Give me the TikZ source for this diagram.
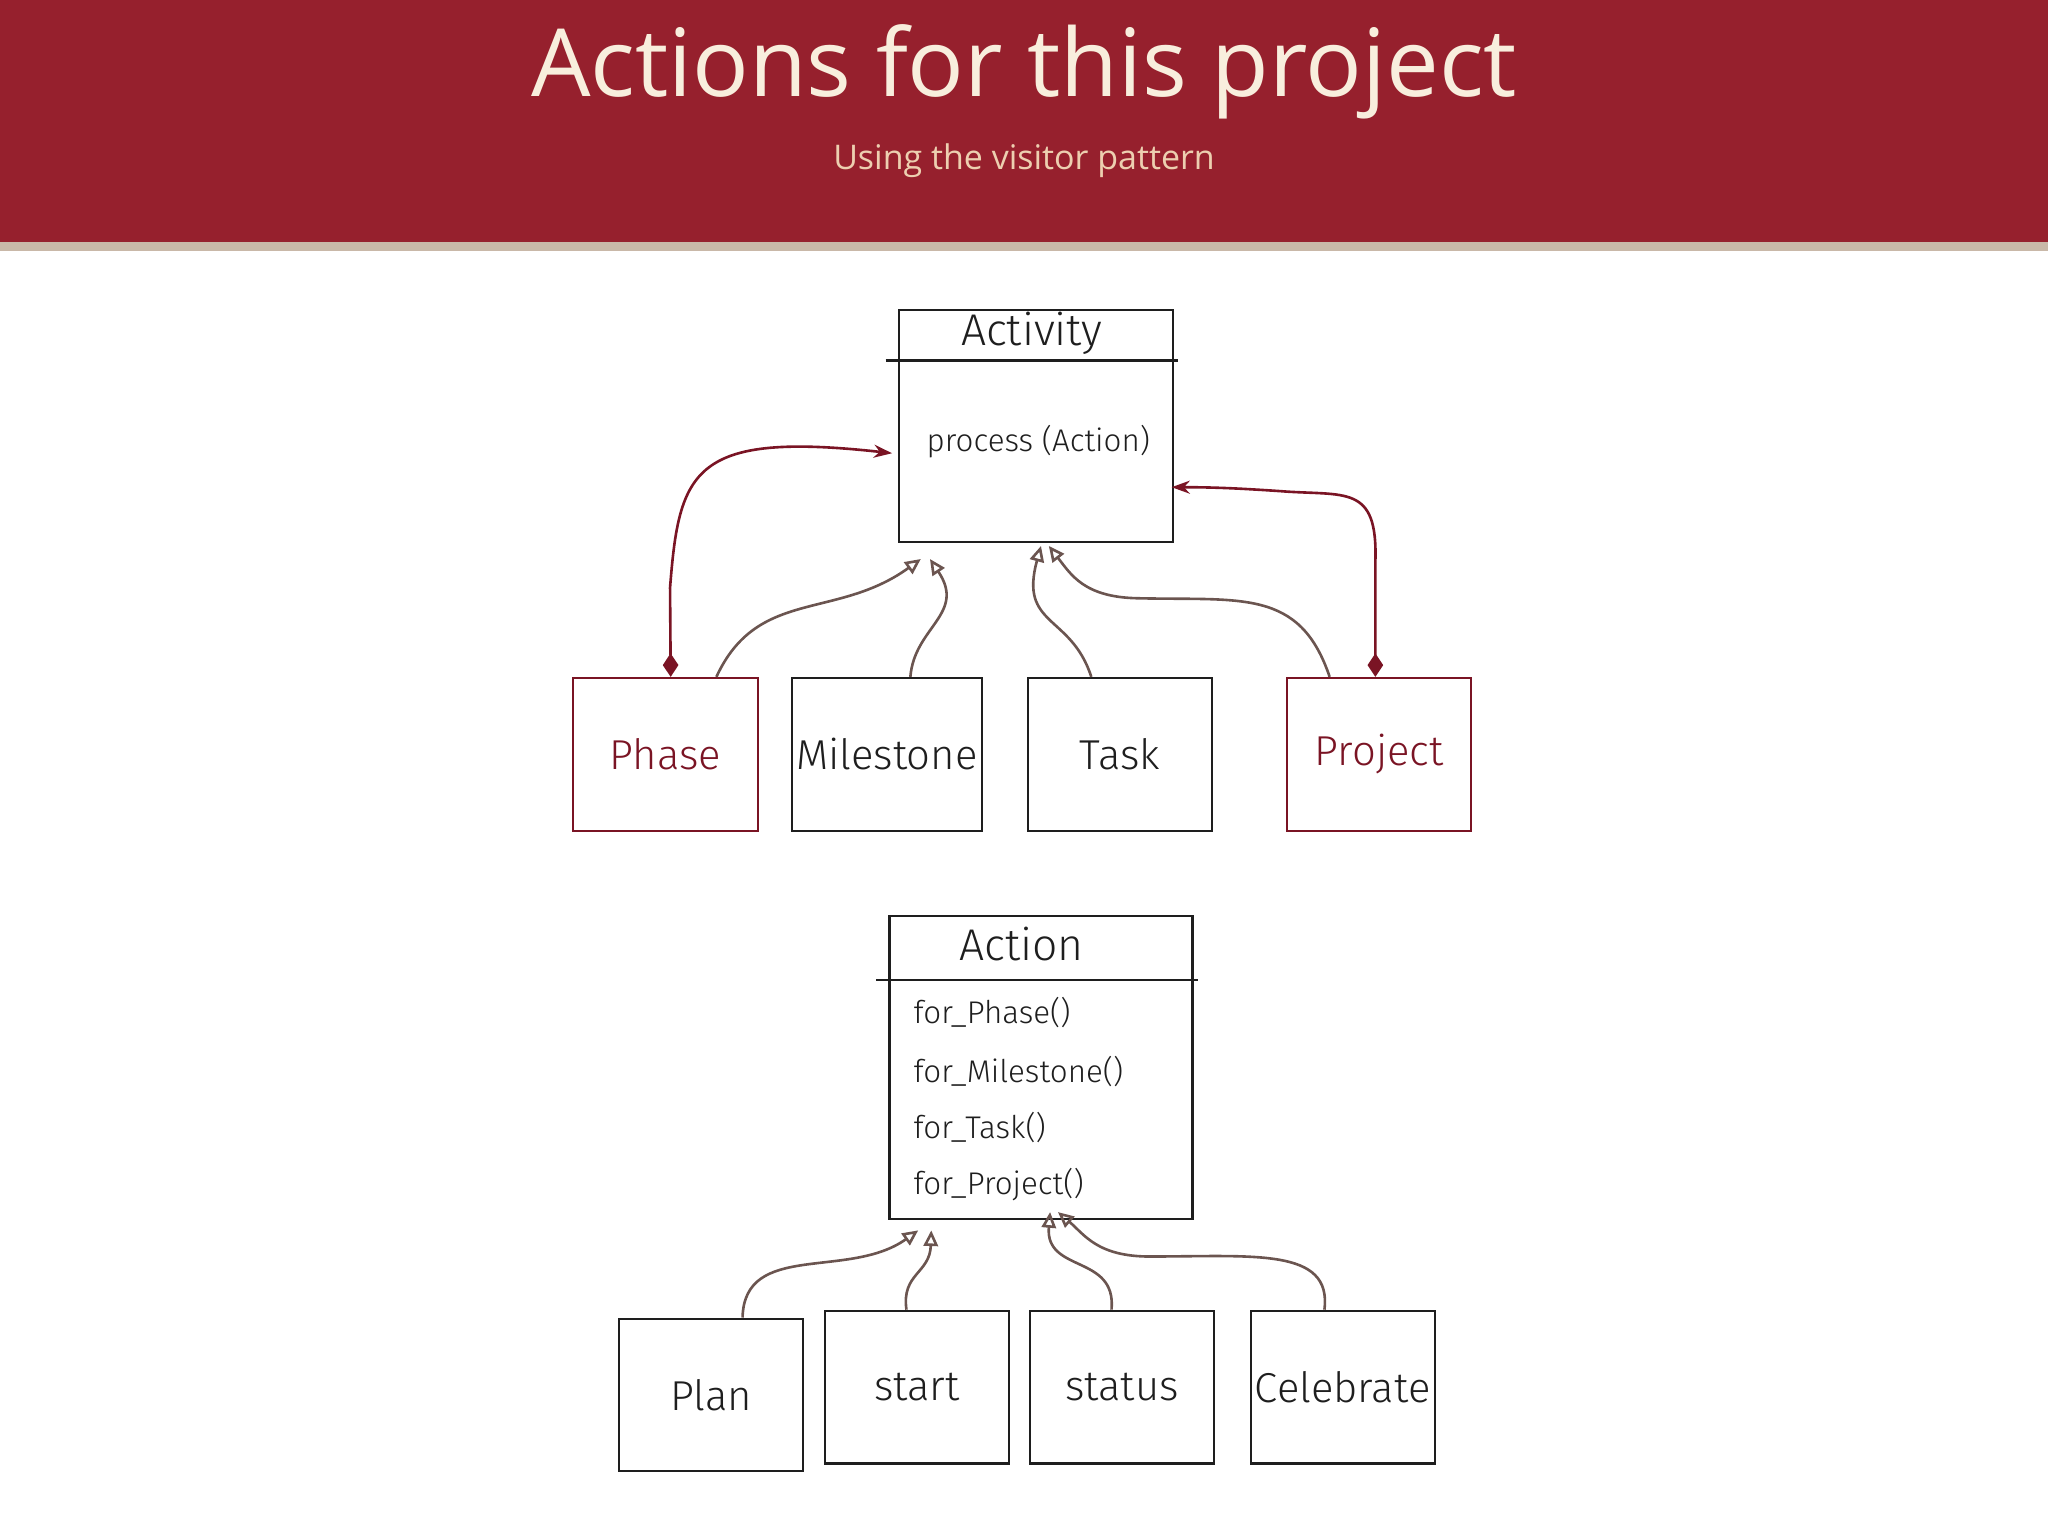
\documentclass[tikz,border=0pt]{standalone}
\usepackage{fontspec}
\setmainfont{Open Sans}
\newfontfamily\hand{Fira Sans Light}
\usetikzlibrary{arrows.meta}
\definecolor{band}{HTML}{96202D}
\definecolor{stripe}{HTML}{C9B8A8}
\definecolor{sub}{HTML}{EDCFB0}
\definecolor{ttl}{HTML}{F8EEDD}
\definecolor{dred}{HTML}{7A1424}
\definecolor{inh}{HTML}{6B5550}
\definecolor{ink}{HTML}{1E1E1E}
\tikzset{
 box/.style={draw=ink,line width=1.6pt,minimum width=141pt,minimum height=117pt,font=\hand\fontsize{32}{36}\selectfont,text=ink},
 rbox/.style={box,draw=dred,text=dred},
 inhe/.style={draw=inh,line width=2pt,-{Triangle[open,length=12pt,width=11pt]}},
 agg/.style={draw=dred,line width=2pt,{Diamond[length=18pt,width=12pt]}-{Stealth[length=14pt,width=10pt]}},
}
\begin{document}
\begin{tikzpicture}[x=1pt,y=-1pt]
\useasboundingbox (0,0) rectangle (1568,1176);
\fill[band] (0,0) rectangle (1568,185);
\fill[stripe] (0,185) rectangle (1568,192);
\node[text=ttl,font=\fontsize{72}{80}\selectfont] (title) at (784,55) {Actions for this project};
\node[text=sub,font=\fontsize{26}{30}\selectfont] (subt) at (784,123) {Using the visitor pattern};
% Activity
\node[draw=ink,line width=1.6pt,minimum width=210pt,minimum height=178pt] (act) at (793,326) {};
\draw[ink,line width=1.6pt] (678,276) -- (902,276);
\node[font=\hand\fontsize{34}{38}\selectfont,text=ink] (actt) at (790,255) {Activity};
\node[font=\hand\fontsize{24}{28}\selectfont,text=ink] (actm) at (795,338) {process (Action)};
\node[rbox] (phase) at (509.5,577.5) {Phase};
\node[box] (mile) at (679,577.5) {Milestone};
\node[box] (task) at (857.5,577.5) {Task};
\node[rbox] (proj) at (1056,577.5) {Project};
% Action
\node[draw=ink,line width=1.6pt,minimum width=232pt,minimum height=232pt] (actn) at (797,817) {};
\draw[ink,line width=1.6pt] (671,750) -- (917,750);
\node[font=\hand\fontsize{34}{38}\selectfont,text=ink] (actnt) at (782,723) {Action};
\foreach \t/\y in {Phase/775,Milestone/820,Task/863,Project/907}
 \node[font=\hand\fontsize{24}{28}\selectfont,text=ink,anchor=west] (m\t) at (696,\y) {for\_\t()};
\node[box] (plan) at (544.5,1068) {Plan};
\node[box] (start) at (702,1062) {start};
\node[box] (status) at (859,1062) {status};
\node[box] (cele) at (1028,1062) {Celebrate};
% inheritance
\coordinate (a1) at (705,428); \coordinate (a2) at (712,428);
\coordinate (a3) at (797,418); \coordinate (a4) at (803,418);
\draw[inhe] ([xshift=39pt]phase.north) .. controls (580,450) and (640,475) .. (a1);
\draw[inhe] ([xshift=18pt]mile.north) .. controls (700,480) and (740,470) .. (a2);
\draw[inhe] ([xshift=-22pt]task.north) .. controls (820,470) and (780,480) .. (a3);
\draw[inhe] ([xshift=-38pt]proj.north) .. controls (995,450) and (950,460) .. (870,458) .. controls (830,457) and (820,440) .. (a4);
\coordinate (b1) at (703,942); \coordinate (b2) at (713,942);
\coordinate (b3) at (804,928); \coordinate (b4) at (810,928);
\draw[inhe] ([xshift=24pt]plan.north) .. controls (570,950) and (650,980) .. (b1);
\draw[inhe] ([xshift=-8pt]start.north) .. controls (690,975) and (712,975) .. (b2);
\draw[inhe] ([xshift=-8pt]status.north) .. controls (855,960) and (800,975) .. (b3);
\draw[inhe] ([xshift=-14pt]cele.north) .. controls (1020,955) and (960,962) .. (880,962) .. controls (840,962) and (830,945) .. (b4);
% aggregation
\coordinate (c1) at (683,347); \coordinate (c2) at (897,373);
\draw[agg] ([xshift=4pt]phase.north) -- (513,450) .. controls (520,360) and (530,330) .. (c1);
\draw[agg] ([xshift=-3pt]proj.north) -- (1053,430) .. controls (1055,370) and (1030,380) .. (980,376) .. controls (950,374) and (930,373) .. (c2);
\end{tikzpicture}
\end{document}
